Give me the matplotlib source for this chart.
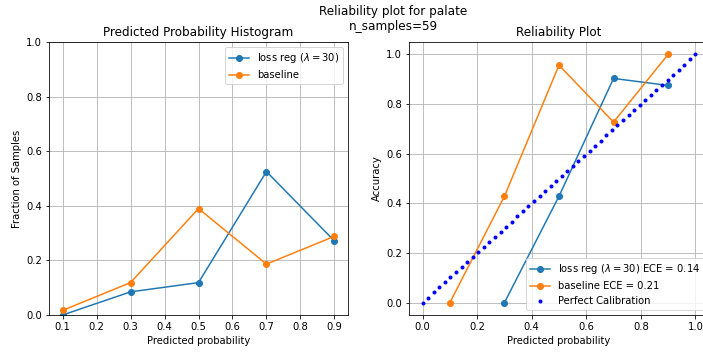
import matplotlib
matplotlib.use("Agg")
import matplotlib.pyplot as plt
import numpy as np

bins = [0.1, 0.3, 0.5, 0.7, 0.9]
n_samples = 59

# fraction of samples per bin
frac_reg = [0 / 59, 5 / 59, 7 / 59, 31 / 59, 16 / 59]
frac_base = [1 / 59, 7 / 59, 23 / 59, 11 / 59, 17 / 59]

# accuracy per bin (empty bins dropped)
acc_reg_x = [0.3, 0.5, 0.7, 0.9]
acc_reg = [0.0, 3 / 7, 28 / 31, 14 / 16]
acc_base_x = [0.1, 0.3, 0.5, 0.7, 0.9]
acc_base = [0.0, 3 / 7, 22 / 23, 8 / 11, 1.0]

ece_reg = 0.14
ece_base = 0.21

W, H, DPI = 703, 352, 72
fig = plt.figure(figsize=(W / DPI, H / DPI), dpi=DPI)

ax1 = fig.add_axes([49 / W, 1 - 315 / H, 299 / W, 273 / H])
ax2 = fig.add_axes([409 / W, 1 - 315 / H, 300 / W, 273 / H])

ax1.plot(bins, frac_reg, "o-", label=r"loss reg ($\lambda = 30$)")
ax1.plot(bins, frac_base, "o-", label="baseline")
ax1.set_ylim(0, 1)
ax1.set_xticks(np.arange(0.1, 1.0, 0.1))
ax1.grid(True)
ax1.set_xlabel("Predicted probability")
ax1.set_ylabel("Fraction of Samples")
ax1.set_title("Predicted Probability Histogram")
ax1.legend(loc="upper right")

perfect = np.linspace(0, 1, 50)
ax2.plot(acc_reg_x, acc_reg, "o-", label=rf"loss reg ($\lambda = 30$) ECE = {ece_reg:.2f}")
ax2.plot(acc_base_x, acc_base, "o-", label=f"baseline ECE = {ece_base:.2f}")
ax2.plot(perfect, perfect, "b.", label="Perfect Calibration")
ax2.grid(True)
ax2.set_xlabel("Predicted probability")
ax2.set_ylabel("Accuracy")
ax2.set_title("Reliability Plot")
ax2.legend(loc="lower right")

fig.suptitle(f"Reliability plot for palate\nn_samples={n_samples}", x=393 / W, y=1 - 5 / H, va="top")

fig.savefig("out.png", dpi=DPI)
